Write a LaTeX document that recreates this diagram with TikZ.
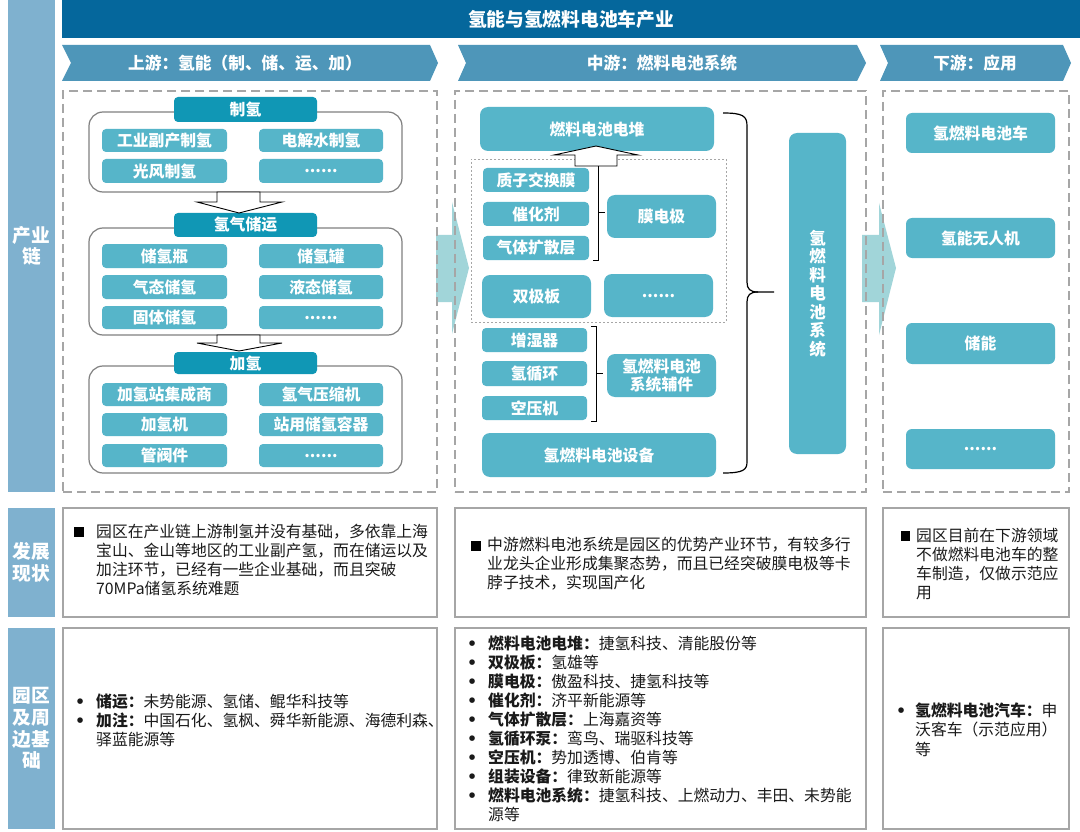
\documentclass[tikz,border=0pt]{standalone}
\usepackage{fontspec}
\setmainfont{Noto Sans CJK SC}
\newfontfamily\dejavu{DejaVu Sans}
\usetikzlibrary{calc}
\definecolor{titleC}{HTML}{05679C}
\definecolor{chevC}{HTML}{4E96B9}
\definecolor{sideC}{HTML}{7FB1CF}
\definecolor{hdrC}{HTML}{1097B5}
\definecolor{itemC}{HTML}{56B5C9}
\definecolor{arrowC}{HTML}{A1D5D9}
\definecolor{dashC}{HTML}{A6A6A6}
\definecolor{grpC}{HTML}{808080}
\definecolor{txtC}{HTML}{1A1A1A}
\newcommand\bx[7]{\node[#1, minimum width={#5-#3}, minimum height={#6-#4}] (#2) at ({(#3+#5)/2},{(#4+#6)/2}) {#7};}
\newcommand\bul[1]{\makebox[#1][l]{\dejavu\bfseries •}}
\tikzset{
  base/.style={inner sep=0pt, outer sep=0pt, text=white, font=\bfseries\fontsize{15.8}{18}\selectfont, align=center},
  hdrbox/.style={base, fill=hdrC, rounded corners=4pt},
  itembox/.style={base, fill=itemC, rounded corners=4pt},
  bigbox/.style={base, fill=itemC, rounded corners=8pt},
  downbox/.style={base, fill=itemC, rounded corners=6pt},
  grpbox/.style={draw=grpC, line width=1.2pt, rounded corners=14pt, inner sep=0pt, outer sep=0pt},
  dashbox/.style={draw=dashC, line width=1.3pt, dash pattern=on 9pt off 5pt, inner sep=0pt, outer sep=0pt},
  dotbox/.style={draw=dashC, line width=0.9pt, dash pattern=on 2pt off 2pt, inner sep=0pt, outer sep=0pt},
  txtbox/.style={draw=dashC, line width=1.3pt, inner sep=0pt, outer sep=0pt},
  sidebox/.style={fill=sideC, inner sep=0pt, outer sep=0pt, text=white, font=\bfseries\fontsize{18.7}{21.7}\selectfont, align=center},
  chevtext/.style={text=white, font=\bfseries\fontsize{16.7}{18}\selectfont, inner sep=0pt},
  blockarrow/.style={draw=black, fill=white, line width=0.9pt},
  bigarrow/.style={fill=arrowC},
  bodytext/.style={anchor=west, align=left, inner sep=0pt, text=txtC, font=\fontsize{15.8}{19}\selectfont},
  sqbullet/.style={fill=black, minimum size=9.5pt, inner sep=0pt},
  bracket/.style={draw=black, line width=1pt},
}
\begin{document}
\begin{tikzpicture}[x=1pt, y=-1pt]
\useasboundingbox (0,0) rectangle (1080,832);
\fill[white] (0,0) rectangle (1080,832);

% side labels
\bx{sidebox}{sb1}{8}{0}{55}{492}{产业\\链}
\bx{sidebox}{sb2}{8}{508}{55}{617}{发展\\现状}
\bx{sidebox}{sb3}{8}{628}{55}{829}{园区\\及周\\边基\\础}

% title bar
\fill[titleC] (62,0) rectangle (1080,38);
\node[text=white, font=\bfseries\fontsize{18.7}{20}\selectfont, inner sep=0pt] (title) at (571,19) {氢能与氢燃料电池车产业};

% chevrons
\fill[chevC] (62,45) -- (430,45) -- (438,63) -- (430,81) -- (62,81) -- (71,63) -- cycle;
\node[chevtext] (upH) at (245,63) {上游：氢能（制、储、运、加）};
\fill[chevC] (458,45) -- (857,45) -- (866,63) -- (857,81) -- (458,81) -- (466,63) -- cycle;
\node[chevtext] (midH) at (662,63) {中游：燃料电池系统};
\fill[chevC] (880,45) -- (1063,45) -- (1071,63) -- (1063,81) -- (880,81) -- (888,63) -- cycle;
\node[chevtext] (downH) at (975,63) {下游：应用};

% big arrows between columns
\fill[bigarrow] (436,235) -- (452,235) -- (452,202) -- (469,268) -- (452,334) -- (452,302) -- (436,302) -- cycle;
\fill[bigarrow] (862,235) -- (879,235) -- (879,203) -- (896,268) -- (879,335) -- (879,302) -- (862,302) -- cycle;

% dashed containers
\bx{dashbox}{upBox}{63}{91}{437}{492}{}
\bx{dashbox}{midBox}{455}{91}{866}{492}{}
\bx{dashbox}{downBox}{883}{91}{1069}{492}{}

% ---------- upstream ----------
\bx{grpbox}{g1}{89}{112}{402}{192}{}
\bx{grpbox}{g2}{89}{228}{402}{335}{}
\bx{grpbox}{g3}{89}{366}{402}{473}{}
\bx{hdrbox}{h1}{174}{97}{317}{122}{制氢}
\bx{hdrbox}{h2}{174}{213}{317}{237}{氢气储运}
\bx{hdrbox}{h3}{174}{352}{317}{374}{加氢}

\bx{itembox}{u11}{102}{129}{227}{152}{工业副产制氢}
\bx{itembox}{u12}{259}{129}{383}{152}{电解水制氢}
\bx{itembox}{u13}{102}{159}{227}{183}{光风制氢}
\bx{itembox}{u14}{259}{159}{383}{183}{......}

\bx{itembox}{u21}{102}{244}{227}{268}{储氢瓶}
\bx{itembox}{u22}{259}{244}{383}{268}{储氢罐}
\bx{itembox}{u23}{102}{275}{227}{299}{气态储氢}
\bx{itembox}{u24}{259}{275}{383}{299}{液态储氢}
\bx{itembox}{u25}{102}{306}{227}{329}{固体储氢}
\bx{itembox}{u26}{259}{306}{383}{329}{......}

\bx{itembox}{u31}{102}{383}{227}{406}{加氢站集成商}
\bx{itembox}{u32}{259}{383}{383}{406}{氢气压缩机}
\bx{itembox}{u33}{102}{413}{227}{436}{加氢机}
\bx{itembox}{u34}{259}{413}{383}{436}{站用储氢容器}
\bx{itembox}{u35}{102}{444}{227}{467}{管阀件}
\bx{itembox}{u36}{259}{444}{383}{467}{......}

% down block arrows
\draw[blockarrow] (217,192) -- (260,192) -- (260,202) -- (282,202) -- (239,213) -- (197,202) -- (217,202) -- cycle;
\draw[blockarrow] (217,335) -- (260,335) -- (260,343) -- (282,343) -- (239,351) -- (197,343) -- (217,343) -- cycle;

% ---------- midstream ----------
\bx{dotbox}{inner}{471}{159}{726}{322}{}
\bx{bigbox}{stack}{480}{107}{714}{151}{燃料电池电堆}
\bx{itembox}{m1}{483}{168}{589}{192}{质子交换膜}
\bx{itembox}{m2}{483}{202}{589}{226}{催化剂}
\bx{itembox}{m3}{483}{236}{589}{260}{气体扩散层}
\bx{bigbox}{mea}{607}{195}{716}{238}{膜电极}
\bx{bigbox}{bp}{482}{275}{591}{318}{双极板}
\bx{bigbox}{mdots}{604}{274}{713}{317}{......}
\bx{itembox}{a1}{482}{328}{587}{352}{增湿器}
\bx{itembox}{a2}{482}{361}{587}{386}{氢循环}
\bx{itembox}{a3}{482}{396}{587}{420}{空压机}
\bx{bigbox}{aux}{607}{354}{716}{397}{氢燃料电池\\系统辅件}
\bx{bigbox}{equip}{482}{433}{716}{477}{氢燃料电池设备}
\node[base, fill=itemC, rounded corners=8pt, minimum width=57pt, minimum height=321pt, font=\bfseries\fontsize{16.5}{18.5}\selectfont] (sys) at (817.5,293.5) {氢\\燃\\料\\电\\池\\系\\统};

% brackets
\draw[bracket] (598,166) -- (598,260) -- (593,260);
\draw[bracket] (598,213) -- (605,213);
\draw[bracket] (591,326) -- (596,326) -- (596,421) -- (591,421);
\draw[bracket] (596,373) -- (603,373);
% up block arrow
\draw[blockarrow] (575,166) -- (575,155) -- (554,155) -- (596,146) -- (638,155) -- (617,155) -- (617,166) -- cycle;
% big brace
\draw[bracket, line width=1.2pt] (723,113) .. controls (743,113) and (747,116) .. (747,126) -- (747,282) .. controls (747,289) and (750,292) .. (758,292) -- (774,292);
\draw[bracket, line width=1.2pt] (758,292) .. controls (750,292) and (747,295) .. (747,302) -- (747,462) .. controls (747,470) and (743,473) .. (723,473);

% ---------- downstream ----------
\bx{downbox}{d1}{906}{113}{1055}{153}{氢燃料电池车}
\bx{downbox}{d2}{906}{218}{1055}{258}{氢能无人机}
\bx{downbox}{d3}{906}{323}{1055}{364}{储能}
\bx{downbox}{d4}{906}{429}{1055}{469}{......}

% ---------- row 2 ----------
\bx{txtbox}{tb21}{63}{508}{437}{617}{}
\bx{txtbox}{tb22}{455}{508}{866}{617}{}
\bx{txtbox}{tb23}{883}{508}{1069}{617}{}
\node[sqbullet] (q1) at (79,532) {};
\node[bodytext] (t21) at (96,559.5) {园区在产业链上游制氢并没有基础，多依靠上海\\宝山、金山等地区的工业副产氢，而在储运以及\\加注环节，已经有一些企业基础，而且突破\\70MPa储氢系统难题};
\node[sqbullet] (q2) at (476,546) {};
\node[bodytext] (t22) at (487,564) {中游燃料电池系统是园区的优势产业环节，有较多行\\业龙头企业形成集聚态势，而且已经突破膜电极等卡\\脖子技术，实现国产化};
\node[sqbullet] (q3) at (905.5,536) {};
\node[bodytext] (t23) at (916,563.5) {园区目前在下游领域\\不做燃料电池车的整\\车制造，仅做示范应\\用};

% ---------- row 3 ----------
\bx{txtbox}{tb31}{63}{628}{437}{829}{}
\bx{txtbox}{tb32}{455}{628}{866}{829}{}
\bx{txtbox}{tb33}{883}{628}{1069}{829}{}
\node[bodytext] (t31) at (75,720.5) {\bul{21pt}\textbf{储运：}未势能源、氢储、鲲华科技等\\\bul{21pt}\textbf{加注：}中国石化、氢枫、舜华新能源、海德利森、\\\hspace*{21pt}驿蓝能源等};
\node[bodytext] (t32) at (467,728.5) {\bul{21pt}\textbf{燃料电池电堆：}捷氢科技、清能股份等\\
\bul{21pt}\textbf{双极板：}氢雄等\\
\bul{21pt}\textbf{膜电极：}傲盈科技、捷氢科技等\\
\bul{21pt}\textbf{催化剂：}济平新能源等\\
\bul{21pt}\textbf{气体扩散层：}上海嘉资等\\
\bul{21pt}\textbf{氢循环泵：}鸾鸟、瑞驱科技等\\
\bul{21pt}\textbf{空压机：}势加透博、伯肯等\\
\bul{21pt}\textbf{组装设备：}律致新能源等\\
\bul{21pt}\textbf{燃料电池系统：}捷氢科技、上燃动力、丰田、未势能\\
\hspace*{21pt}源等};
\node[bodytext, font=\fontsize{15.8}{19.5}\selectfont] (t33) at (896,729.5) {\bul{19pt}\textbf{氢燃料电池汽车：}申\\\hspace*{19pt}沃客车（示范应用）\\\hspace*{19pt}等};
\end{tikzpicture}
\end{document}
